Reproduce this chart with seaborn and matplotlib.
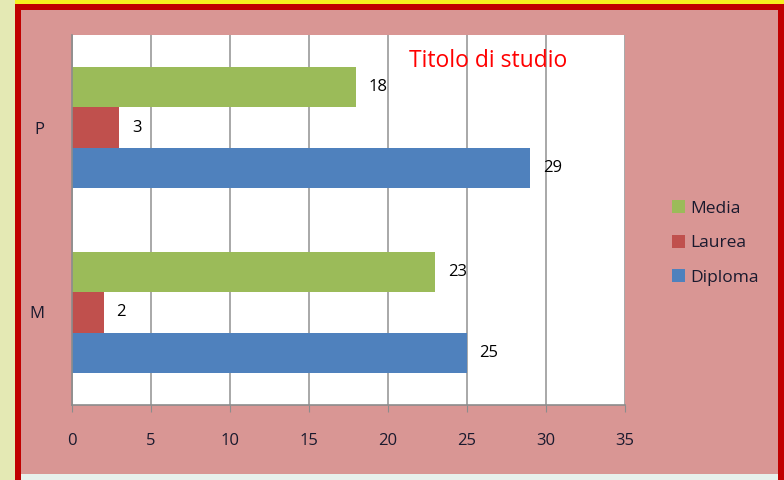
import numpy as np
import pandas as pd
import matplotlib
matplotlib.use("Agg")
import matplotlib.pyplot as plt
from matplotlib.patches import Rectangle
import seaborn as sns

# data
groups = ["P", "M"]
series = ["Media", "Laurea", "Diploma"]
media = [18, 23]
laurea = [3, 2]
diploma = [29, 25]
colors = ["#9BBB59", "#C0504D", "#4F81BD"]

df = pd.DataFrame({
    "gruppo": groups * 3,
    "titolo": ["Media"] * 2 + ["Laurea"] * 2 + ["Diploma"] * 2,
    "n": media + laurea + diploma,
})

sns.set_style("white")
plt.rcParams["font.family"] = ["Open Sans", "DejaVu Sans"]

W, H = 784, 480
fig = plt.figure(figsize=(W / 100, H / 100), dpi=100)
fig.patch.set_facecolor("#D99694")


def px_rect(x0, y0, x1, y1, color, z=0):
    # rectangle given in pixel coords (top-left origin)
    fig.add_artist(Rectangle((x0 / W, 1 - y1 / H), (x1 - x0) / W, (y1 - y0) / H,
                             transform=fig.transFigure, color=color,
                             linewidth=0, zorder=z))


# frame decoration around the chart
px_rect(0, 0, 15, H, "#E4E9B4")
px_rect(15, 0, W, 4, "#F5F020")
px_rect(15, 4, W, 10, "#C00000")
px_rect(15, 4, 21, H, "#C00000")
px_rect(778, 4, W, H, "#C00000")
px_rect(21, 474, 778, H, "#E8F0EC")

ax = fig.add_axes([72 / W, 1 - 405 / H, (625 - 72) / W, (405 - 35) / H])
ax.set_facecolor("white")

sns.barplot(data=df, x="n", y="gruppo", hue="titolo", order=groups,
            hue_order=series, palette=colors, orient="h", width=0.65,
            saturation=1, linewidth=0, ax=ax, legend=True)

ax.set_xlim(0, 35)
ax.set_xticks(range(0, 36, 5))
ax.set_ylim(1.5, -0.5)
ax.grid(axis="x", color="#9A9A9A", linewidth=1.2)
ax.set_axisbelow(True)
for side in ["top", "right"]:
    ax.spines[side].set_visible(False)
for side in ["left", "bottom"]:
    ax.spines[side].set_color("#8C8C8C")
    ax.spines[side].set_linewidth(1.2)

ax.set_yticks([-0.5, 0.5, 1.5], minor=True)
ax.tick_params(axis="y", which="major", length=0, pad=20, labelsize=12,
               labelcolor="#1A1A2E")
ax.tick_params(axis="y", which="minor", length=5, color="#8C8C8C")
ax.tick_params(axis="x", length=5, color="#8C8C8C", pad=15, labelsize=12,
               labelcolor="#1A1A2E", bottom=True)
ax.set_xlabel("")
ax.set_ylabel("")

for cont in ax.containers:
    ax.bar_label(cont, padding=9, fontsize=12, color="black")

leg = ax.legend(loc="center left", bbox_to_anchor=(656 / W, 1 - 243 / H),
                bbox_transform=fig.transFigure, frameon=False, fontsize=12.5,
                handlelength=0.75, handleheight=0.75, handletextpad=0.3,
                labelspacing=1.05, labelcolor="#1A1A2E")
for h in leg.legend_handles:
    h.set_edgecolor("none")

fig.text(488 / W, 1 - 61 / H, "Titolo di studio", color="#FF0000",
         fontsize=16.5, ha="center", va="center")

fig.savefig("out.png", dpi=100, facecolor=fig.get_facecolor())
